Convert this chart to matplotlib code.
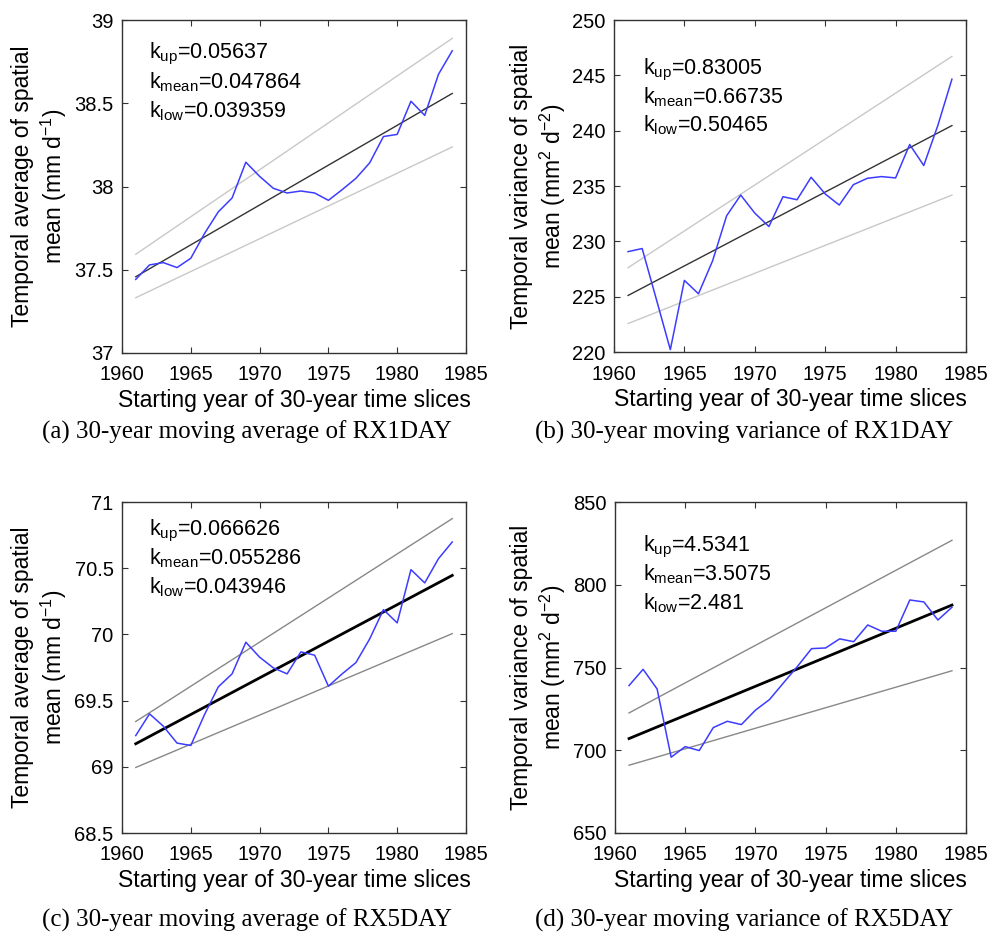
import numpy as np
import matplotlib
matplotlib.use('Agg')
import matplotlib.pyplot as plt
from matplotlib.ticker import FormatStrFormatter

plt.rcParams['font.family'] = ['Liberation Sans', 'DejaVu Sans']
plt.rcParams['mathtext.fontset'] = 'custom'
plt.rcParams['mathtext.rm'] = 'Liberation Sans'
plt.rcParams['mathtext.it'] = 'Liberation Sans:italic'

years = np.arange(1961, 1985)

# (a) RX1DAY moving average
rx1_mean = [37.442, 37.529, 37.543, 37.513, 37.569, 37.718, 37.848, 37.931, 38.146, 38.061,
            37.989, 37.961, 37.973, 37.961, 37.917, 37.981, 38.049, 38.142, 38.300, 38.313,
            38.512, 38.427, 38.674, 38.815]
# (b) RX1DAY moving variance
rx1_var = [229.07, 229.35, 224.8, 220.21, 226.47, 225.26, 228.23, 232.31, 234.18, 232.55,
           231.34, 234.03, 233.76, 235.79, 234.28, 233.28, 235.12, 235.70, 235.85, 235.73,
           238.75, 236.85, 240.47, 244.65]
# (c) RX5DAY moving average
rx5_mean = [69.236, 69.400, 69.307, 69.179, 69.161, 69.395, 69.604, 69.702, 69.941, 69.828,
            69.747, 69.702, 69.868, 69.843, 69.609, 69.702, 69.787, 69.966, 70.187, 70.087,
            70.489, 70.389, 70.572, 70.698]
# (d) RX5DAY moving variance
rx5_var = [739.1, 748.9, 737.0, 695.8, 702.2, 699.8, 713.7, 717.5, 715.5, 724.2,
           730.6, 740.7, 750.7, 761.4, 761.8, 767.3, 765.6, 775.7, 771.9, 771.9,
           790.8, 789.6, 778.7, 786.4]

# trend slopes and 1961 intercepts (up, mean, low)
k_a = [0.05637, 0.047864, 0.039359]
k_a_txt = ['0.05637', '0.047864', '0.039359']
start_a = [37.593, 37.458, 37.332]
k_b = [0.83005, 0.66735, 0.50465]
k_b_txt = ['0.83005', '0.66735', '0.50465']
start_b = [227.62, 225.11, 222.57]
k_c = [0.066626, 0.055286, 0.043946]
k_c_txt = ['0.066626', '0.055286', '0.043946']
start_c = [69.342, 69.174, 68.995]
k_d = [4.5341, 3.5075, 2.481]
k_d_txt = ['4.5341', '3.5075', '2.481']
start_d = [722.56, 707.06, 690.95]

ylims = [(37, 39), (220, 250), (68.5, 71), (650, 850)]
ysteps = [0.5, 5, 0.5, 50]
ylabels = ['Temporal average of spatial\nmean (mm d$^{-1}$)',
           'Temporal variance of spatial\nmean (mm$^{2}$ d$^{-2}$)',
           'Temporal average of spatial\nmean (mm d$^{-1}$)',
           'Temporal variance of spatial\nmean (mm$^{2}$ d$^{-2}$)']
captions = ['(a) 30-year moving average of RX1DAY', '(b) 30-year moving variance of RX1DAY',
            '(c) 30-year moving average of RX5DAY', '(d) 30-year moving variance of RX5DAY']

W, H = 990, 933
fig = plt.figure(figsize=(W/100, H/100), dpi=100)

# pixel boxes: left, top, right, bottom
boxes = [(122, 20, 466, 353), (614, 20, 966, 352), (122, 502, 466, 833), (615, 502, 966, 833)]
text_pos = [(0.078, [0.886, 0.796, 0.709]), (0.082, [0.837, 0.75, 0.663]),
            (0.078, [0.900, 0.810, 0.725]), (0.080, [0.852, 0.764, 0.677])]
ylab_x = [40, 539, 40, 539]
cap_pos = [(42, 432), (535, 432), (42, 920), (535, 920)]

series = [rx1_mean, rx1_var, rx5_mean, rx5_var]
ks = [k_a, k_b, k_c, k_d]
ktxt = [k_a_txt, k_b_txt, k_c_txt, k_d_txt]
starts = [start_a, start_b, start_c, start_d]

for i in range(4):
    l, t, r, b = boxes[i]
    ax = fig.add_axes([l/W, 1-b/H, (r-l)/W, (b-t)/H])
    if i < 2:
        bound_col, bound_lw, mean_col, mean_lw = '#c8c8c8', 1.0, '#333333', 1.0
    else:
        bound_col, bound_lw, mean_col, mean_lw = '#888888', 1.0, 'black', 2.0
    for j in range(3):
        trend = starts[i][j] + ks[i][j]*(years - years[0])
        if j == 1:
            ax.plot(years, trend, color=mean_col, lw=mean_lw, zorder=2)
        else:
            ax.plot(years, trend, color=bound_col, lw=bound_lw, zorder=1)
    ax.plot(years, series[i], color='#3c3cff', lw=1.1, zorder=3)

    ax.set_xlim(1960, 1985)
    ax.set_ylim(*ylims[i])
    ax.set_xticks(np.arange(1960, 1986, 5))
    ax.set_yticks(np.arange(ylims[i][0], ylims[i][1] + ysteps[i]/2, ysteps[i]))
    ax.yaxis.set_major_formatter(FormatStrFormatter('%g'))
    ax.tick_params(direction='in', top=True, right=True, length=4, width=0.8,
                   labelsize=14.5, colors='#333333', labelcolor='black')
    ax.tick_params(axis='x', pad=9)
    ax.tick_params(axis='y', pad=6)
    for sp in ax.spines.values():
        sp.set_color('#333333')
        sp.set_linewidth(1.0)
    ax.set_xlabel('Starting year of 30-year time slices', fontsize=16.5, labelpad=3)

    tx, tys = text_pos[i]
    names = ['up', 'mean', 'low']
    for j in range(3):
        ax.text(tx, tys[j], r'k$_{\mathrm{' + names[j] + '}}$=' + ktxt[i][j],
                transform=ax.transAxes, fontsize=15.5, va='baseline', ha='left')

    fig.text(ylab_x[i]/W, 1-((t+b)/2)/H, ylabels[i], rotation=90, ha='center', va='center',
             multialignment='center', fontsize=16.5)
    cx, cy = cap_pos[i]
    fig.text(cx/W, 1-cy/H, captions[i], ha='left', va='center', fontsize=18,
             family=['Liberation Serif', 'DejaVu Serif'])

fig.savefig('out.png', dpi=100)
